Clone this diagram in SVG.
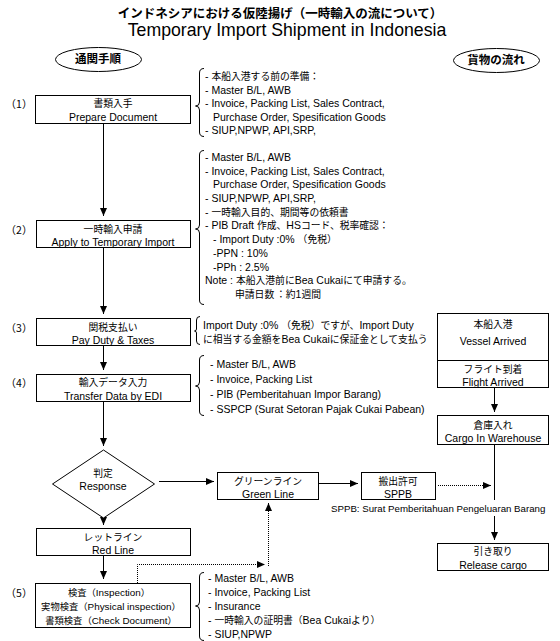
<svg xmlns="http://www.w3.org/2000/svg" width="560" height="641" viewBox="0 0 560 641">
<style>
text{font-family:"Liberation Sans","Noto Sans CJK JP",sans-serif;font-size:10.5px;fill:#000;dominant-baseline:central}
.c{text-anchor:middle}
.b{font-weight:bold}
.j{font-family:"Noto Sans CJK JP",sans-serif;font-size:9.8px}
.s{font-size:9.9px}
.s .j{font-size:9.3px}
.box{fill:#fff;stroke:#000;stroke-width:1}
.ln{fill:none;stroke:#000;stroke-width:1}
.dot{fill:none;stroke:#000;stroke-width:1;stroke-dasharray:1 1}
.br{fill:none;stroke:#000;stroke-width:1}
</style>
<defs>
<marker id="ah" viewBox="0 0 8 8" refX="8" refY="4" markerWidth="8" markerHeight="8" markerUnits="userSpaceOnUse" orient="auto"><path d="M0,0.5 L8,4 L0,7.5 z" fill="#000"/></marker>
</defs>
<rect width="560" height="641" fill="#fff"/>

<g id="title">
<text x="280" y="12" class="c b" style="font-family:'Noto Sans CJK JP',sans-serif;font-size:12.5px">インドネシアにおける仮陸揚げ（一時輸入の流について）</text>
<text x="287" y="30" class="c" style="font-size:17.7px">Temporary Import Shipment in Indonesia</text>
</g>

<g id="header-left">
<ellipse cx="98.5" cy="59.5" rx="43" ry="12" class="box"/>
<text x="98" y="59" class="c b" style="font-size:11.5px">通関手順</text>
</g>
<g id="header-right">
<ellipse cx="496.5" cy="60.5" rx="43" ry="12" class="box"/>
<text x="496" y="60" class="c b" style="font-size:11.5px">貨物の流れ</text>
</g>

<g id="connectors">
<line x1="103.5" y1="123" x2="103.5" y2="216" class="ln" marker-end="url(#ah)"/>
<line x1="103.5" y1="248" x2="103.5" y2="314" class="ln" marker-end="url(#ah)"/>
<line x1="103.5" y1="346" x2="103.5" y2="370" class="ln" marker-end="url(#ah)"/>
<line x1="103.5" y1="402" x2="103.5" y2="446" class="ln" marker-end="url(#ah)"/>
<line x1="103.5" y1="518" x2="103.5" y2="525" class="ln" marker-end="url(#ah)"/>
<line x1="103.5" y1="556" x2="103.5" y2="579" class="ln" marker-end="url(#ah)"/>
<line x1="159" y1="481.5" x2="214" y2="481.5" class="ln" marker-end="url(#ah)"/>
<line x1="318" y1="483.5" x2="358" y2="483.5" class="ln" marker-end="url(#ah)"/>
<line x1="438" y1="485.5" x2="491" y2="485.5" class="dot" marker-end="url(#ah)"/>
<polyline points="137.5,583 137.5,564.5 265,564.5" class="dot" marker-end="url(#ah)"/>
<line x1="268.5" y1="566" x2="268.5" y2="503" class="dot" marker-end="url(#ah)"/>
<line x1="494.5" y1="388" x2="494.5" y2="412" class="ln" marker-end="url(#ah)"/>
<line x1="494.5" y1="445" x2="494.5" y2="500" class="ln"/>
<line x1="494.5" y1="516" x2="494.5" y2="540" class="ln" marker-end="url(#ah)"/>
</g>

<g id="step1">
<text x="19" y="103" class="c j" style="font-size:10.5px">（1）</text>
<rect x="35.5" y="95.5" width="155" height="28" class="box"/>
<text x="113" y="103" class="c j">書類入手</text>
<text x="113" y="116.5" class="c">Prepare Document</text>
</g>
<g id="note1">
<path d="M204,68.5 Q199.5,68.5 199.5,73 L199.5,102 Q199.5,106 195.5,106 Q199.5,106 199.5,110 L199.5,132 Q199.5,136.5 204,136.5" class="br"/>
<text x="205" y="76">- <tspan class="j">本船入港する前の準備：</tspan></text>
<text x="205" y="89.5">- Master B/L, AWB</text>
<text x="205" y="103">- Invoice, Packing List, Sales Contract,</text>
<text x="213" y="116.5">Purchase Order, Spesification Goods</text>
<text x="205" y="130">- SIUP,NPWP, API,SRP,</text>
</g>

<g id="step2">
<text x="19" y="229" class="c j" style="font-size:10.5px">（2）</text>
<rect x="36.5" y="220.5" width="154" height="27" class="box"/>
<text x="113" y="229" class="c j">一時輸入申請</text>
<text x="113" y="242" class="c">Apply to Temporary Import</text>
</g>
<g id="note2">
<path d="M204,150.5 Q199.5,150.5 199.5,155 L199.5,225 Q199.5,229 195.5,229 Q199.5,229 199.5,233 L199.5,300 Q199.5,304.5 204,304.5" class="br"/>
<text x="205" y="157">- Master B/L, AWB</text>
<text x="205" y="171">- Invoice, Packing List, Sales Contract,</text>
<text x="213" y="184">Purchase Order, Spesification Goods</text>
<text x="205" y="198">- SIUP,NPWP, API,SRP,</text>
<text x="205" y="212">- <tspan class="j">一時輸入目的、期間等の依頼書</tspan></text>
<text x="205" y="225">- PIB Draft <tspan class="j">作成、</tspan>HS<tspan class="j">コード、税率確認：</tspan></text>
<text x="213" y="239">- Import Duty :0% <tspan class="j">（免税）</tspan></text>
<text x="213" y="253">-PPN : 10%</text>
<text x="213" y="267">-PPh : 2.5%</text>
<text x="205" y="280">Note : <tspan class="j">本船入港前に</tspan>Bea Cukai<tspan class="j">にて申請する。</tspan></text>
<text x="235" y="294" class="j">申請日数<tspan x="276">：約</tspan><tspan style="font-family:'Liberation Sans',sans-serif;font-size:10.5px">1</tspan>週間</text>
</g>

<g id="step3">
<text x="19" y="327" class="c j" style="font-size:10.5px">（3）</text>
<rect x="36.5" y="318.5" width="154" height="27" class="box"/>
<text x="113" y="327" class="c j">関税支払い</text>
<text x="113" y="340" class="c">Pay Duty &amp; Taxes</text>
</g>
<g id="note3">
<path d="M200,316.5 Q196.5,316.5 196.5,320 L196.5,329 Q196.5,331 194.5,331 Q196.5,331 196.5,333 L196.5,341 Q196.5,344.5 200,344.5" class="br"/>
<text x="203" y="325">Import Duty :0% <tspan class="j">（免税）ですが、</tspan>Import Duty</text>
<text x="203" y="339"><tspan class="j">に相当する金額を</tspan>Bea Cukai<tspan class="j">に保証金として支払う</tspan></text>
</g>

<g id="step4">
<text x="19" y="382" class="c j" style="font-size:10.5px">（4）</text>
<rect x="36.5" y="374.5" width="154" height="27" class="box"/>
<text x="113" y="382" class="c j">輸入データ入力</text>
<text x="113" y="396" class="c">Transfer Data by EDI</text>
</g>
<g id="note4">
<path d="M204,355.5 Q199.5,355.5 199.5,360 L199.5,382 Q199.5,386 195.5,386 Q199.5,386 199.5,390 L199.5,411 Q199.5,415.5 204,415.5" class="br"/>
<text x="210" y="364">- Master B/L, AWB</text>
<text x="210" y="379">- Invoice, Packing List</text>
<text x="210" y="394">- PIB (Pemberitahuan Impor Barang)</text>
<text x="210" y="409">- SSPCP (Surat Setoran Pajak Cukai Pabean)</text>
</g>

<g id="decision">
<polygon points="103.5,450 154.5,484 103.5,518 52.5,484" class="box"/>
<text x="103" y="473" class="c j">判定</text>
<text x="103" y="486" class="c">Response</text>
</g>

<g id="red-line">
<rect x="36.5" y="528.5" width="154" height="27" class="box"/>
<text x="113" y="537" class="c j">レットライン</text>
<text x="113" y="550" class="c">Red Line</text>
</g>

<g id="step5">
<text x="19" y="592" class="c j" style="font-size:10.5px">（5）</text>
<rect x="35.5" y="583.5" width="155" height="44" class="box"/>
<text x="109" y="592" class="c s"><tspan class="j">検査（</tspan>Inspection<tspan class="j">）</tspan></text>
<text x="111" y="606" class="c s"><tspan class="j">実物検査（</tspan>Physical inspection<tspan class="j">）</tspan></text>
<text x="111" y="620" class="c s"><tspan class="j">書類検査（</tspan>Check Document<tspan class="j">）</tspan></text>
</g>
<g id="note5">
<path d="M204,572.5 Q199.5,572.5 199.5,577 L199.5,602 Q199.5,606 195.5,606 Q199.5,606 199.5,610 L199.5,636 Q199.5,640.5 204,640.5" class="br"/>
<text x="208" y="578">- Master B/L, AWB</text>
<text x="208" y="592">- Invoice, Packing List</text>
<text x="208" y="606">- Insurance</text>
<text x="208" y="620">- <tspan class="j">一時輸入の証明書（</tspan>Bea Cukai<tspan class="j">より）</tspan></text>
<text x="208" y="634">- SIUP,NPWP</text>
</g>

<g id="green-line">
<rect x="217.5" y="472.5" width="101" height="27" class="box"/>
<text x="268" y="481" class="c j">グリーンライン</text>
<text x="268" y="494" class="c">Green Line</text>
</g>

<g id="sppb">
<rect x="361.5" y="472.5" width="74" height="27" class="box"/>
<text x="398" y="481" class="c j">搬出許可</text>
<text x="398" y="494" class="c">SPPB</text>
<text x="331" y="508" style="font-size:9.7px">SPPB: Surat Pemberitahuan Pengeluaran Barang</text>
</g>

<g id="vessel">
<rect x="437.5" y="313.5" width="111" height="47" class="box"/>
<text x="493" y="324" class="c j">本船入港</text>
<text x="493" y="341" class="c">Vessel Arrived</text>
</g>
<g id="flight">
<rect x="437.5" y="360.5" width="111" height="27" class="box"/>
<text x="493" y="369" class="c j">フライト到着</text>
<text x="493" y="382" class="c">Flight Arrived</text>
</g>
<g id="warehouse">
<rect x="437.5" y="415.5" width="111" height="29" class="box"/>
<text x="493" y="425" class="c j">倉庫入れ</text>
<text x="493" y="438" class="c">Cargo In Warehouse</text>
</g>
<g id="release">
<rect x="437.5" y="543.5" width="111" height="27" class="box"/>
<text x="493" y="551" class="c j">引き取り</text>
<text x="493" y="565" class="c">Release cargo</text>
</g>
</svg>
